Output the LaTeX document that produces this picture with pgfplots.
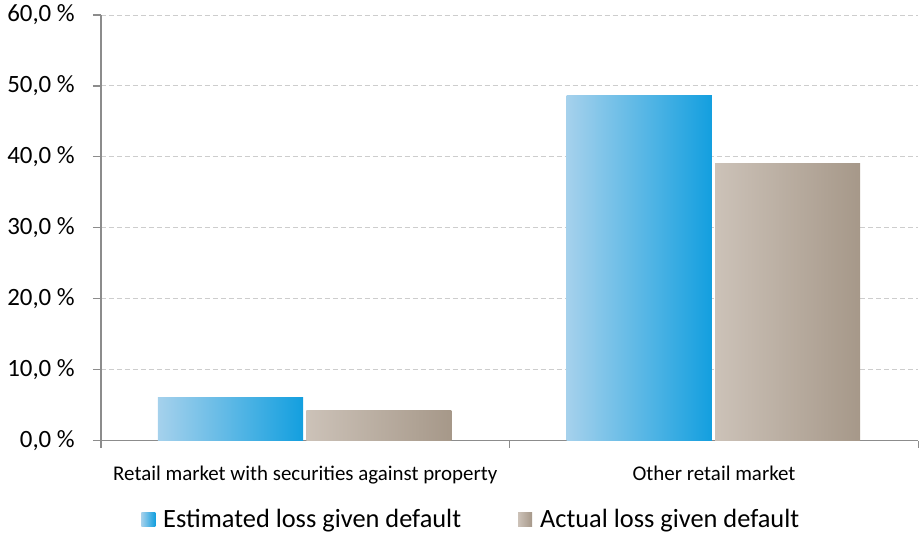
\documentclass[border=0pt]{standalone}
\usepackage{pgfplots}
\pgfplotsset{compat=1.18}
\usepackage{fontspec}
\setmainfont{Carlito}
\definecolor{blueL}{HTML}{A5D1EC}
\definecolor{blueR}{HTML}{139FDF}
\definecolor{grayL}{HTML}{CCC2B8}
\definecolor{grayR}{HTML}{A69889}
\definecolor{axgray}{HTML}{8C8C8C}
\definecolor{gridgray}{HTML}{CDCDCD}
\begin{document}
\begin{tikzpicture}
\begin{axis}[
  scale only axis,
  width=818bp, height=426bp,
  xmin=-0.5, xmax=1.5,
  ymin=0, ymax=60,
  axis x line*=bottom,
  axis y line*=left,
  axis line style={axgray, line width=1.2bp, -},
  xtick={0,1},
  xticklabels={Retail market with securities against property, Other retail market},
  major x tick style={draw=none},
  minor xtick={-0.5,0.5,1.5},
  minor x tick style={axgray, line width=1.2bp},
  minor tick length=7bp,
  tick align=outside,
  ytick={0,10,20,30,40,50,60},
  yticklabels={{0,0 \%},{10,0 \%},{20,0 \%},{30,0 \%},{40,0 \%},{50,0 \%},{60,0 \%}},
  major y tick style={axgray, line width=1.2bp},
  major tick length=8bp,
  ymajorgrids,
  grid style={gridgray, line width=0.9bp, dash pattern=on 5bp off 3bp},
  yticklabel style={font=\fontsize{25}{30}\selectfont, anchor=east, inner sep=0pt, xshift=-18bp},
  xticklabel style={font=\fontsize{21}{25}\selectfont, anchor=north, inner sep=0pt, yshift=-17bp},
  ybar, bar width=0.355,
  legend style={at={(axis description cs:0.453,-0.185)}, anchor=center, draw=none,
    font=\fontsize{26.5}{31}\selectfont, legend columns=2,
    /tikz/every even column/.append style={column sep=55bp}},
  clip=false,
  extra description/.code={
    \path (axis description cs:0,0) ++(-101bp,0) rectangle ++(1bp,1bp);
    \path (axis description cs:0,1) ++(0,15bp) rectangle ++(1bp,-1bp);},
]
\addplot[draw=none, left color=blueL, right color=blueR, bar shift=-0.183,
  legend image code/.code={\shade[left color=blueL, right color=blueR] (0bp,-7bp) rectangle (14bp,7bp); \path (20bp,0);}]
  coordinates {(0,6.05)};
\addplot[draw=none, left color=grayL, right color=grayR, bar shift=0.180,
  legend image code/.code={\shade[left color=grayL, right color=grayR] (0bp,-7bp) rectangle (14bp,7bp); \path (20bp,0);}]
  coordinates {(0,4.2)};
\addplot[draw=none, left color=blueL, right color=blueR, bar shift=-0.183, forget plot]
  coordinates {(1,48.6)};
\addplot[draw=none, left color=grayL, right color=grayR, bar shift=0.180, forget plot]
  coordinates {(1,39.0)};
\legend{Estimated loss given default, Actual loss given default}
\end{axis}
\end{tikzpicture}
\end{document}
